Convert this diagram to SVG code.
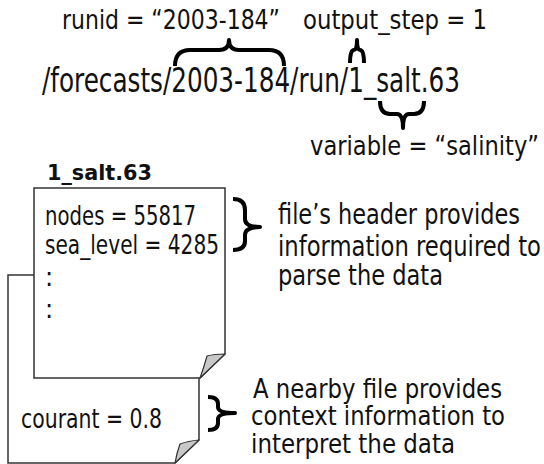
<svg xmlns="http://www.w3.org/2000/svg" width="544" height="464" viewBox="0 0 544 464">
<style>
text{font-family:"DejaVu Sans Condensed","DejaVu Sans",sans-serif;fill:#111}
.b{font-weight:bold}
.doc{fill:#fff;stroke:#333;stroke-width:1.5}
.curl{fill:#c8c8c8;stroke:#333;stroke-width:1.2;stroke-linejoin:round}
.brace{fill:none;stroke:#000;stroke-width:4;stroke-linecap:butt;stroke-linejoin:round}
</style>
<rect width="544" height="464" fill="#fff"/>
<g id="path-labels">
<text x="62" y="29" font-size="26" textLength="218" lengthAdjust="spacingAndGlyphs">runid = “2003-184”</text>
<text x="303" y="29" font-size="26" textLength="184" lengthAdjust="spacingAndGlyphs">output_step = 1</text>
<text x="42" y="92" font-size="33" textLength="418" lengthAdjust="spacingAndGlyphs">/forecasts/2003-184/run/1_salt.63</text>
<text x="310" y="155" font-size="27" textLength="229" lengthAdjust="spacingAndGlyphs">variable = “salinity”</text>
</g>
<g id="braces">
<path class="brace" d="M175,66 Q175,50 190,50 H219 Q229,50 229,40 Q229,50 239,50 H269 Q284,50 284,66"/>
<path class="brace" d="M350,63 Q350,50 354,50 Q357,50 357,40 Q357,50 360,50 Q364,50 364,63"/>
<path class="brace" d="M380,101 Q380,114 390,114 H397 Q403,114 403,128 Q403,114 409,114 H414 Q424,114 424,101"/>
<path class="brace" d="M233,199 Q245,199 245,210 V219 Q245,227 260,227 Q245,227 245,235 V241 Q245,250 233,250"/>
<path class="brace" d="M208,397 Q218,397 218,404 V407 Q218,413 235,413 Q218,413 218,419 V423 Q218,430 208,430"/>
</g>
<g id="nearby-file">
<path class="doc" d="M8,275 H199 V440 L175,463 H8 Z"/>
<path class="curl" d="M199,440 Q188,441 180,444 Q177,452 175,463 Z"/>
<text x="21" y="428" font-size="26" textLength="141" lengthAdjust="spacingAndGlyphs">courant = 0.8</text>
</g>
<g id="salt-file">
<text class="b" x="47" y="180" font-size="21" textLength="105" lengthAdjust="spacingAndGlyphs">1_salt.63</text>
<path class="doc" d="M34,188 H225 V354 L200,378 H34 Z"/>
<path class="curl" d="M225,354 Q214,354 207,356 Q204,367 200,378 Z"/>
<text x="45" y="225" font-size="27" textLength="151" lengthAdjust="spacingAndGlyphs">nodes = 55817</text>
<text x="45" y="254" font-size="27" textLength="174" lengthAdjust="spacingAndGlyphs">sea_level = 4285</text>
<text x="45" y="286" font-size="27">:</text>
<text x="45" y="318" font-size="27">:</text>
</g>
<g id="notes">
<text x="278" y="224" font-size="28" textLength="242" lengthAdjust="spacingAndGlyphs">file’s header provides</text>
<text x="278" y="256" font-size="28" textLength="263" lengthAdjust="spacingAndGlyphs">information required to</text>
<text x="278" y="285" font-size="28" textLength="165" lengthAdjust="spacingAndGlyphs">parse the data</text>
<text x="253" y="398" font-size="26" textLength="249" lengthAdjust="spacingAndGlyphs">A nearby file provides</text>
<text x="251" y="425" font-size="26" textLength="254" lengthAdjust="spacingAndGlyphs">context information to</text>
<text x="251" y="453" font-size="26" textLength="204" lengthAdjust="spacingAndGlyphs">interpret the data</text>
</g>
</svg>
